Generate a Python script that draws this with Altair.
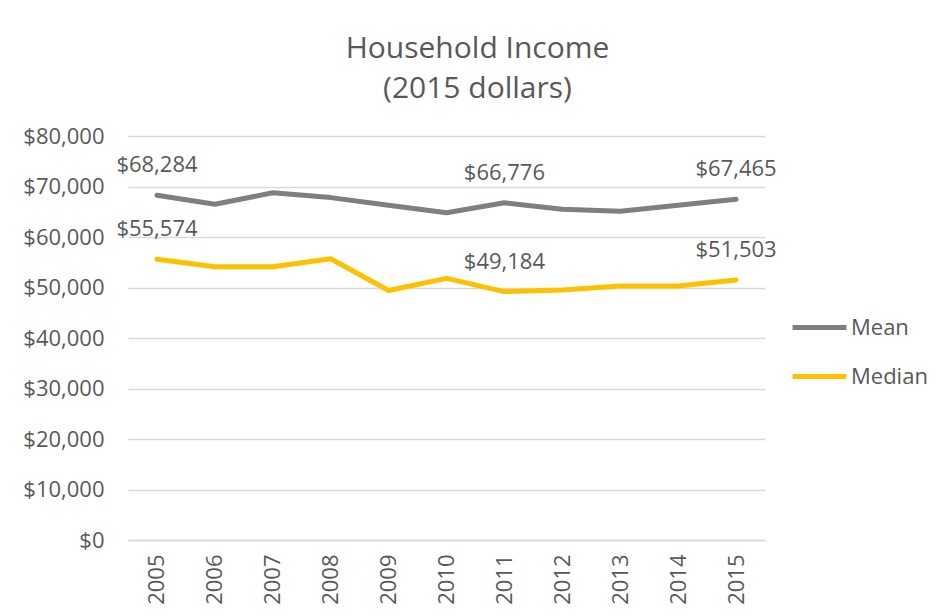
import altair as alt
import pandas as pd

years = ["2005", "2006", "2007", "2008", "2009", "2010", "2011", "2012", "2013", "2014", "2015"]
mean_vals = [68284, 66500, 68750, 67800, 66300, 64800, 66776, 65500, 65100, 66300, 67465]
median_vals = [55574, 54100, 54100, 55700, 49400, 51800, 49184, 49500, 50300, 50300, 51503]
series_names = ["Mean", "Median"]
series_colors = ["#7f7f7f", "#ffc000"]
label_years = ["2005", "2011", "2015"]
y_ticks = [0, 10000, 20000, 30000, 40000, 50000, 60000, 70000, 80000]

rows = []
for y, m in zip(years, mean_vals):
    rows.append({"year": y, "series": "Mean", "value": m})
for y, m in zip(years, median_vals):
    rows.append({"year": y, "series": "Median", "value": m})
df = pd.DataFrame(rows)

FONT = "Open Sans"
TXT = "#595959"

x_enc = alt.X("year:O", sort=years, title=None,
              axis=alt.Axis(labelAngle=270, labelFontSize=22, labelColor=TXT, labelFont=FONT,
                            ticks=False, grid=False, domain=True, domainColor="#d9d9d9",
                            domainWidth=1.5, labelPadding=14))
y_enc = alt.Y("value:Q", title=None,
              scale=alt.Scale(domain=[0, 80000], nice=False),
              axis=alt.Axis(values=y_ticks, format="$,.0f", labelFontSize=22, labelColor=TXT,
                            labelFont=FONT, ticks=False, domain=False, gridColor="#d9d9d9",
                            gridWidth=1.5, labelPadding=24))
color_enc = alt.Color("series:N", scale=alt.Scale(domain=series_names, range=series_colors),
                      legend=alt.Legend(title=None, orient="none", legendX=662, legendY=162,
                                        symbolType="stroke", symbolStrokeWidth=5, symbolSize=2900,
                                        labelFontSize=22, labelColor=TXT, labelFont=FONT,
                                        labelOffset=2, rowPadding=8))

lines = alt.Chart(df).mark_line(strokeWidth=5, strokeCap="round", strokeJoin="round").encode(
    x=x_enc, y=y_enc, color=color_enc)

labels = alt.Chart(df).transform_filter(
    alt.FieldOneOfPredicate(field="year", oneOf=label_years)
).mark_text(fontSize=22, font=FONT, color=TXT, dy=-30, baseline="middle", align="center").encode(
    x=alt.X("year:O", sort=years),
    y="value:Q",
    text=alt.Text("value:Q", format="$,.0f"))

chart = alt.layer(lines, labels).properties(
    width=637, height=404,
    background="white",
    title=alt.TitleParams(text=["Household Income", "(2015 dollars)"], fontSize=30,
                          font=FONT, color=TXT, fontWeight="normal", lineHeight=40,
                          offset=21, dx=31, anchor="middle"),
    autosize=alt.AutoSizeParams(type="none"),
    padding={"left": 120, "top": 128, "right": 165, "bottom": 66},
).configure_view(strokeWidth=0, stroke="transparent")

chart.save("out.html", embed_options={"renderer": "svg", "actions": False})
